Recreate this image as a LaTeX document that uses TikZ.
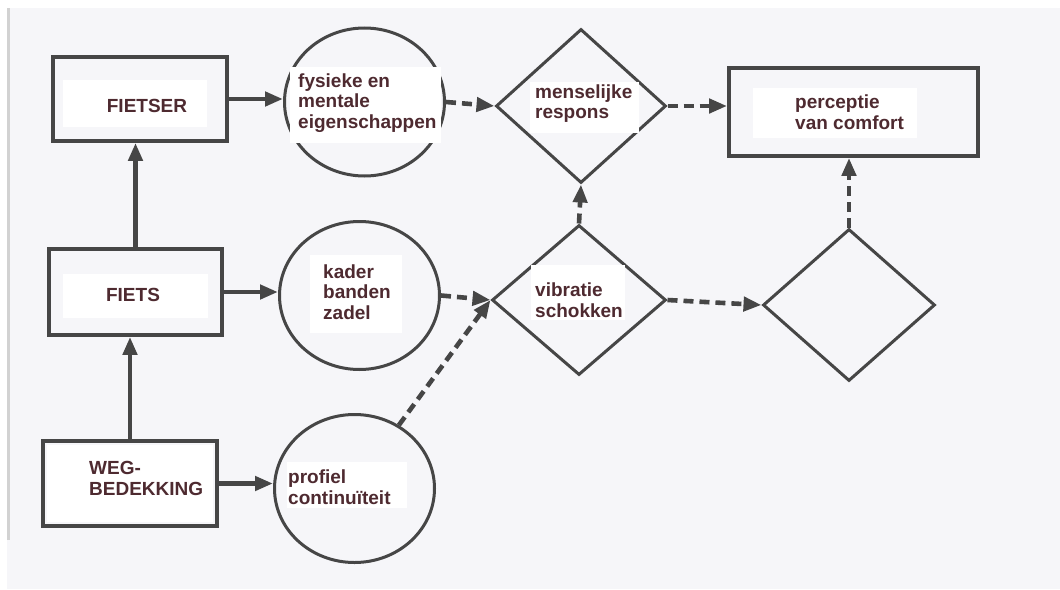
\documentclass[tikz,border=0pt]{standalone}
\usepackage{fontspec}
\setmainfont{Liberation Sans}
\usetikzlibrary{shapes.geometric}
\usetikzlibrary{arrows.meta}

\definecolor{papier}{RGB}{246,246,249}
\definecolor{lijn}{RGB}{70,70,70}
\definecolor{inkt}{RGB}{78,42,48}

\tikzset{
	blok/.style={draw=lijn,line width=3.8pt,rectangle,inner sep=0pt},
	bol/.style={draw=lijn,line width=3pt,ellipse,minimum width=160pt,minimum height=148pt,inner sep=0pt},
	ruit/.style={draw=lijn,line width=3pt,diamond,inner sep=0pt},
	lbl/.style={font=\fontsize{19}{20.5}\selectfont\bfseries,text=inkt,align=left,inner sep=0pt},
	patch/.style={fill=white},
	vol/.style={draw=lijn,line width=4.6pt,-{Triangle[length=18pt,width=14pt]}},
	streep/.style={draw=lijn,line width=4.6pt,dash pattern=on 10pt off 6pt,-{Triangle[length=18pt,width=14pt]}}
}

\begin{document}
\begin{tikzpicture}[x=1pt,y=-1pt]
	%paper
	\useasboundingbox (0,0) rectangle (1060,589);
	\fill[papier] (0,0) rectangle (1060,589);
	\fill[white] (0,0) rectangle (1060,8);		%top edge
	\fill[white] (0,0) rectangle (7,589);		%left edge
	\fill[gray!35] (7,8) rectangle (10,540);	%scan border

	%boxes
	\node[blok,minimum width=174pt,minimum height=84pt] (fietser) at (140,99) {};
	\node[blok,minimum width=173pt,minimum height=86pt] (fiets) at (135.5,292) {};
	\node[blok,minimum width=174pt,minimum height=85pt] (weg) at (130,483.5) {};
	\node[blok,minimum width=249pt,minimum height=88pt] (perceptie) at (853.5,112) {};

	%circles
	\node[bol] (eig) at (364.5,102) {};
	\node[bol] (kader) at (359.5,295.5) {};
	\node[bol] (profiel) at (354.5,488.5) {};

	%diamonds
	\node[ruit,minimum width=170pt,minimum height=154pt] (respons) at (581,106) {};
	\node[ruit,minimum width=174pt,minimum height=150pt] (vibratie) at (579,300) {};
	\node[ruit,minimum width=172pt,minimum height=152pt] (leeg) at (849,305) {};

	%paper slips
	\fill[patch] (63,80) rectangle (207,127);
	\fill[patch] (63,274) rectangle (208,318);
	\fill[patch] (47,445) rectangle (213,522);
	\fill[patch] (290,67) rectangle (441,143);
	\fill[patch] (310,255) rectangle (402,333);
	\fill[patch] (287,462) rectangle (407,508);
	\fill[patch] (530,82) rectangle (639,133);
	\fill[patch] (531,265) rectangle (625,320);
	\fill[patch] (753,88) rectangle (917,138);

	%labels
	\node[lbl] (tfietser) at (147,106) {FIETSER};
	\node[lbl] (tfiets) at (133,295) {FIETS};
	\node[lbl,anchor=west] (tweg) at (89,478.5) {WEG-\\BEDEKKING};
	\node[lbl,anchor=west] (teig) at (298,103) {fysieke en\\mentale\\eigenschappen};
	\node[lbl,anchor=west] (tkader) at (323,292) {kader\\banden\\zadel};
	\node[lbl,anchor=west] (tprofiel) at (288,487) {profiel\\continuïteit};
	\node[lbl,anchor=west] (trespons) at (535,103.5) {menselijke\\respons};
	\node[lbl,anchor=west] (tvibratie) at (535,300) {vibratie\\schokken};
	\node[lbl,anchor=west] (tperceptie) at (795,112) {perceptie\\van comfort};

	%solid arrows
	\draw[vol] (weg.north) -- (weg.north |- fiets.south);
	\draw[vol] (fiets.north) -- (fiets.north |- fietser.south);
	\draw[vol] (fietser.east) -- (fietser.east -| eig.west);
	\draw[vol] (fiets.east) -- (fiets.east -| kader.west);
	\draw[vol] (weg.east) -- (weg.east -| profiel.west);

	%dashed arrows
	\draw[streep] (eig.east) -- (respons.west);
	\draw[streep] (respons.east) -- (respons.east -| perceptie.west);
	\draw[streep] (kader.east) -- (vibratie.west);
	\draw[streep] (profiel.55) -- (vibratie.west);
	\draw[streep] (vibratie.north) -- (respons.south);
	\draw[streep] (vibratie.east) -- (leeg.west);
	\draw[streep] (leeg.north) -- (leeg.north |- perceptie.south);
\end{tikzpicture}
\end{document}
